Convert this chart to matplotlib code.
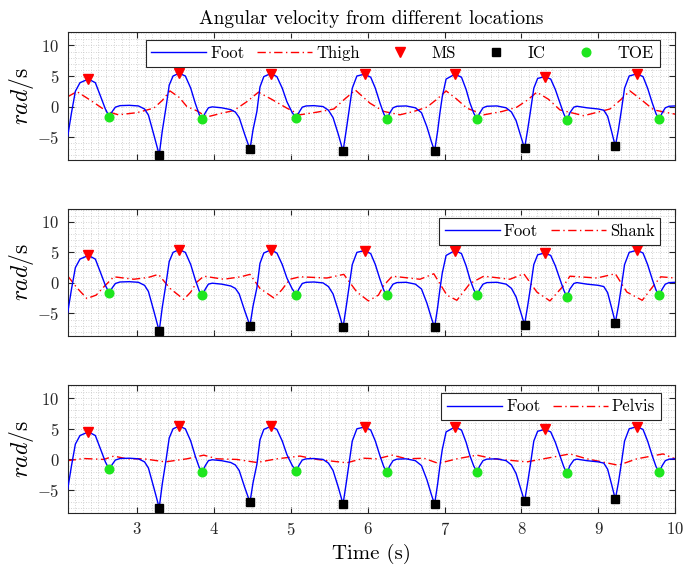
import matplotlib

matplotlib.use("Agg")
import matplotlib.pyplot as plt
from matplotlib.ticker import MultipleLocator

# foot angular velocity (same signal in every panel)
foot_t = [
    2.10, 2.15, 2.20, 2.26, 2.37, 2.46, 2.53, 2.59, 2.64, 2.68, 2.72, 2.78, 2.90, 3.02, 3.10, 3.15, 3.22, 3.29,
    3.33, 3.38, 3.42, 3.47, 3.55, 3.63, 3.70, 3.76, 3.81, 3.85, 3.89, 3.93, 3.98, 4.10, 4.22, 4.28, 4.33, 4.40, 4.47,
    4.51, 4.56, 4.60, 4.65, 4.74, 4.82, 4.89, 4.95, 5.02, 5.07, 5.11, 5.15, 5.20, 5.30, 5.42, 5.49, 5.55, 5.62, 5.68,
    5.72, 5.76, 5.80, 5.86, 5.96, 6.04, 6.10, 6.16, 6.21, 6.25, 6.29, 6.33, 6.38, 6.50, 6.62, 6.70, 6.77, 6.83, 6.87,
    6.91, 6.94, 6.97, 7.02, 7.135, 7.22, 7.28, 7.33, 7.38, 7.42, 7.46, 7.50, 7.55, 7.68, 7.80, 7.87, 7.93, 7.99, 8.04,
    8.08, 8.12, 8.16, 8.21, 8.30, 8.38, 8.44, 8.50, 8.55, 8.59, 8.63, 8.68, 8.72, 8.85, 9.00, 9.07, 9.12, 9.17, 9.22,
    9.26, 9.30, 9.34, 9.40, 9.50, 9.58, 9.64, 9.70, 9.75, 9.79, 9.83, 9.87, 9.92, 10.0,
]
foot_v = [
    -4.9, -1.0, 2.5, 3.9, 4.5, 3.9, 1.6, -0.4, -1.63, -0.8, -0.1, 0.15, 0.2, 0.1, -0.4, -1.4, -4.6, -7.9,
    -4.0, 0.0, 3.5, 5.0, 5.45, 5.0, 3.0, 0.5, -1.3, -2.06, -1.0, -0.2, -0.05, -0.2, -0.5, -0.9, -1.8, -4.5, -7.0,
    -3.8, -0.8, 3.2, 4.9, 5.4, 4.9, 3.0, 0.8, -1.0, -1.9, -0.9, -0.1, 0.1, 0.15, 0.0, -0.6, -1.8, -4.6, -7.3,
    -4.0, -0.5, 3.0, 5.0, 5.3, 4.8, 3.0, 0.6, -1.2, -2.06, -1.0, -0.2, 0.05, 0.1, -0.2, -1.0, -3.3, -5.8, -7.3,
    -4.0, -1.0, 1.6, 4.5, 5.3, 4.8, 2.8, 0.6, -1.1, -2.0, -1.0, -0.2, 0.05, 0.1, -0.2, -0.9, -2.3, -4.8, -6.85,
    -3.8, -0.5, 3.0, 4.6, 4.9, 4.5, 2.8, 0.6, -1.2, -2.28, -1.0, -0.1, 0.05, -0.2, -0.4, -0.6, -1.6, -4.0, -6.5,
    -3.8, -0.5, 3.0, 5.0, 5.35, 4.9, 3.0, 0.6, -1.2, -2.06, -1.0, -0.2, 0.05, 0.1,
]

# gait events
ms_t = [2.37, 3.55, 4.74, 5.96, 7.135, 8.30, 9.50]
ms_v = [4.5, 5.45, 5.4, 5.3, 5.3, 4.9, 5.35]
ic_t = [3.29, 4.47, 5.68, 6.87, 8.04, 9.22]
ic_v = [-7.9, -7.0, -7.3, -7.3, -6.85, -6.5]
toe_t = [2.64, 3.85, 5.07, 6.25, 7.42, 8.59, 9.79]
toe_v = [-1.63, -2.06, -1.9, -2.06, -2.0, -2.28, -2.06]

thigh_t = [2.10, 2.22, 2.40, 2.61, 2.76, 3.00, 3.22, 3.33, 3.43, 3.55, 3.65, 3.78, 3.91, 4.10, 4.26, 4.43, 4.58,
           4.75, 4.95, 5.12, 5.35, 5.56, 5.69, 5.84, 6.03, 6.21, 6.42, 6.60, 6.77, 6.90, 7.02, 7.15, 7.29, 7.51,
           7.75, 7.94, 8.07, 8.20, 8.35, 8.50, 8.81, 9.15, 9.28, 9.41, 9.55, 9.72, 10.0]
thigh_v = [1.6, 2.45, 1.0, -0.8, -1.35, -1.0, -0.26, 1.0, 2.56, 1.5, 0.0, -0.7, -1.7, -1.1, -0.65, 0.8, 2.35,
           1.2, -0.26, -1.35, -0.9, -0.4, 1.1, 2.7, 0.55, -0.8, -1.35, -0.8, -0.1, 1.2, 2.56, 1.3, -0.26, -1.35,
           -0.8, -0.1, 1.0, 2.35, 1.2, -0.55, -1.5, -0.4, 1.0, 2.56, 1.2, -0.55, -1.25]

shank_t = [2.10, 2.22, 2.35, 2.47, 2.57, 2.70, 2.96, 3.15, 3.28, 3.43, 3.61, 3.70, 3.78, 3.87, 4.13, 4.35, 4.47,
           4.60, 4.78, 4.88, 4.99, 5.12, 5.47, 5.69, 5.86, 6.01, 6.14, 6.21, 6.32, 6.68, 6.86, 7.03, 7.16, 7.33,
           7.51, 7.85, 8.03, 8.20, 8.37, 8.55, 8.63, 8.98, 9.22, 9.37, 9.57, 9.72, 9.81, 10.0]
shank_v = [1.15, -0.8, -2.56, -2.0, -0.65, 1.0, 0.6, 0.9, 1.4, -0.9, -2.7, -1.5, 0.15, 1.1, 0.6, 1.0, 1.4,
           -0.9, -2.46, -1.2, 0.6, 1.0, 0.8, 1.4, -1.5, -2.95, -2.0, -0.4, 1.1, 0.6, 1.5, -2.0, -2.85, -0.1,
           1.1, 0.6, 1.5, -1.5, -2.95, -0.4, 1.1, 0.8, 1.5, -1.5, -2.85, -0.4, 1.0, 0.8]

pelvis_t = [2.10, 2.31, 2.57, 2.70, 2.87, 3.09, 3.37, 3.65, 3.87, 4.04, 4.30, 4.56, 4.82, 5.12, 5.34, 5.73, 5.95,
            6.12, 6.32, 6.51, 6.73, 6.92, 7.16, 7.42, 7.64, 8.07, 8.33, 8.63, 8.85, 9.26, 9.50, 9.84, 10.0]
pelvis_v = [-0.2, 0.15, 0.0, 0.55, 0.1, 0.1, -0.4, 0.1, 0.7, 0.1, 0.0, -0.5, 0.1, 0.55, 0.0, -0.55, 0.2,
            0.1, 0.7, 0.1, 0.2, -0.65, 0.1, 0.7, 0.1, -0.4, 0.2, 0.9, 0.1, -0.95, 0.1, 0.9, 0.1]

panels = [("Thigh", thigh_t, thigh_v), ("Shank", shank_t, shank_v), ("Pelvis", pelvis_t, pelvis_v)]
x_ticks = [3, 4, 5, 6, 7, 8, 9, 10]
y_ticks = [-5, 0, 5, 10]

plt.rcParams.update(
    {
        "font.family": "cmr10",
        "mathtext.fontset": "cm",
        "axes.unicode_minus": False,
        "axes.formatter.use_mathtext": True,
        "font.size": 12,
    }
)

fig = plt.figure(figsize=(6.87, 5.70), dpi=100)
fig.patch.set_facecolor("white")

axes_rects = [
    [0.0985, 0.7198, 0.8845, 0.2235],
    [0.0985, 0.4105, 0.8845, 0.2233],
    [0.0985, 0.1005, 0.8845, 0.2240],
]
legend_anchor = [(0.974, 0.940), (0.975, 0.929), (0.9765, 0.935)]

for idx, (name, seg_t, seg_v) in enumerate(panels):
    ax = fig.add_axes(axes_rects[idx])
    ax.plot(foot_t, foot_v, color="#0000ff", lw=1.0, label="Foot", zorder=3)
    ax.plot(seg_t, seg_v, color="#ff0000", lw=1.0, ls="-.", dashes=(6, 2.5, 1, 2.5), label=name, zorder=2)
    ax.plot(ms_t, ms_v, ls="none", marker="v", color="#ff0000", ms=7.5, label="MS", zorder=4)
    ax.plot(ic_t, ic_v, ls="none", marker="s", color="black", ms=5.5, label="IC", zorder=4)
    ax.plot(toe_t, toe_v, ls="none", marker="o", color="#1ee61e", ms=6.2, label="TOE", zorder=4)

    ax.set_xlim(2.1, 10)
    ax.set_ylim(-8.7, 12.15)
    ax.set_xticks(x_ticks)
    ax.set_yticks(y_ticks)
    ax.xaxis.set_minor_locator(MultipleLocator(0.1))
    ax.yaxis.set_minor_locator(MultipleLocator(1))
    ax.grid(which="both", color="#c6c6c6", ls=(0, (1, 2)), lw=0.6, zorder=0)
    ax.set_axisbelow(True)
    ax.tick_params(which="major", direction="in", length=4, width=0.8, top=True, right=True,
                   colors="#262626", labelsize=12, pad=6)
    ax.tick_params(which="minor", length=0)
    for sp in ax.spines.values():
        sp.set_color("#262626")
        sp.set_linewidth(0.8)
    ax.set_ylabel(r"$rad/$s", fontsize=17, labelpad=1)
    if idx < 2:
        ax.set_xticklabels([])
    else:
        ax.set_xlabel("Time (s)", fontsize=15)

    handles, labels = ax.get_legend_handles_labels()
    if idx == 0:
        ncol = 5
    else:
        handles, labels = handles[:2], labels[:2]
        ncol = 2
    leg = ax.legend(handles, labels, ncol=ncol, loc="upper right", bbox_to_anchor=legend_anchor[idx],
                    borderaxespad=0, fontsize=12, handlelength=3.3, columnspacing=0.75,
                    handletextpad=0.25, borderpad=0.35, fancybox=False, framealpha=1)
    leg.get_frame().set_edgecolor("#262626")
    leg.get_frame().set_linewidth(0.8)
    if idx == 0:
        ax.set_title("Angular velocity from different locations", fontsize=14, pad=6)

fig.savefig("out.png", dpi=100)
